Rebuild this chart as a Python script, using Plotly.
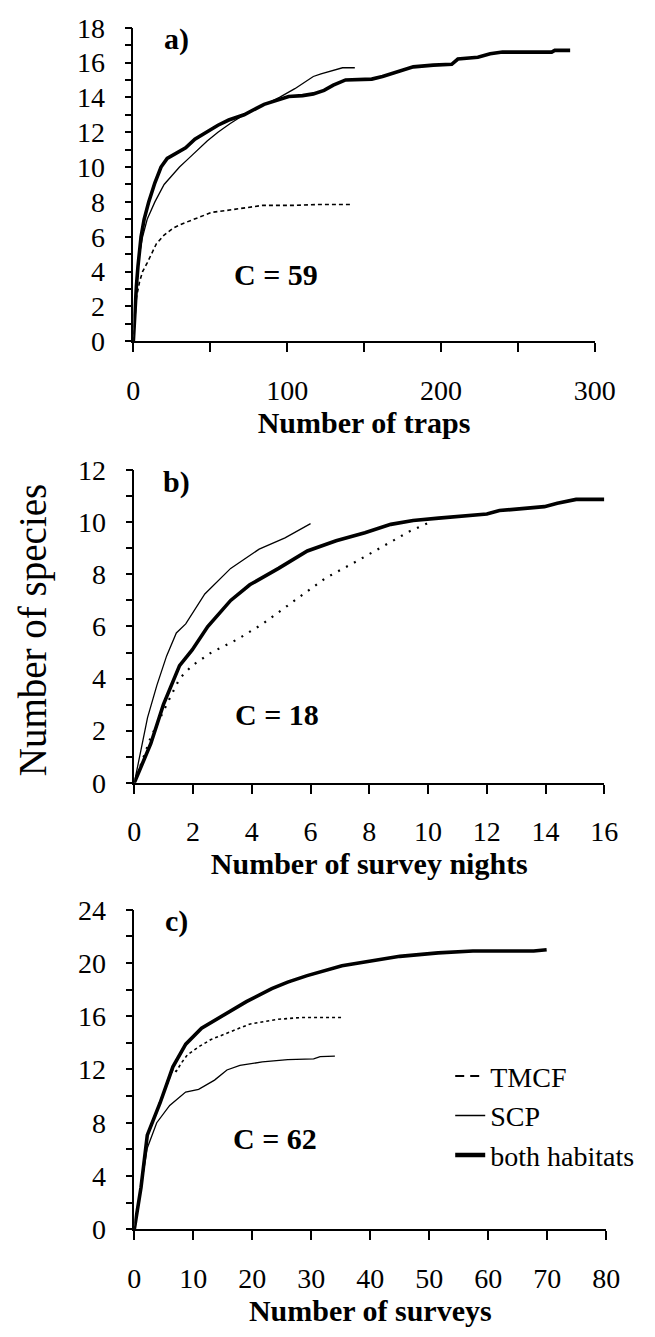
import plotly.graph_objects as go

W, H = 655, 1337
FONT = "Liberation Serif"

# ---------------- data ----------------
# panel a) traps
a_tmcf_x = [0, 1, 2, 4, 6, 9, 15, 20, 26, 32, 38, 45, 51, 60, 67, 75, 84, 95, 105, 120, 141]
a_tmcf_y = [0, 1.6, 2.5, 3.4, 4.0, 4.5, 5.6, 6.1, 6.5, 6.75, 6.95, 7.2, 7.4, 7.5, 7.6, 7.7, 7.8, 7.8, 7.8, 7.85, 7.85]
a_scp_x = [0, 1, 2, 3, 4, 6, 9, 14, 20, 25, 30, 36, 42, 48, 55, 63, 72, 80, 88, 95, 105, 112, 117, 122, 128, 136, 144]
a_scp_y = [0, 1.7, 3.0, 4.1, 5.0, 6.0, 7.0, 8.0, 9.0, 9.5, 10.0, 10.5, 11.0, 11.5, 12.0, 12.5, 13.0, 13.4, 13.7, 14.0, 14.5, 14.9, 15.2, 15.35, 15.5, 15.7, 15.7]
a_both_x = [0, 1, 2, 3, 4, 5, 7, 10, 14, 18, 22, 28, 34, 40, 47, 55, 62, 72, 85, 95, 101, 110, 117, 124, 130, 138,
            147, 155, 162, 169, 176, 182, 195, 207, 211, 224, 232, 240, 272, 274, 284]
a_both_y = [0, 1.8, 3.2, 4.3, 5.3, 6.0, 7.0, 8.0, 9.1, 10.0, 10.5, 10.8, 11.1, 11.6, 12.0, 12.4, 12.7, 13.0, 13.6, 13.9,
            14.05, 14.1, 14.2, 14.4, 14.7, 15.0, 15.0, 15.05, 15.2, 15.4, 15.6, 15.75, 15.85, 15.9, 16.2, 16.3, 16.5,
            16.6, 16.6, 16.7, 16.7]

# panel b) survey nights
b_tmcf_x = [0, 0.56, 1.1, 1.54, 1.97, 2.62, 3.5, 4.37, 5.46, 6.5, 7.64, 8.73, 9.38, 10.0]
b_tmcf_y = [0, 1.75, 3.0, 4.0, 4.5, 5.0, 5.5, 6.1, 7.0, 7.85, 8.55, 9.23, 9.66, 9.97]
b_scp_x = [0, 0.45, 0.77, 1.1, 1.43, 1.75, 2.4, 3.28, 4.25, 5.13, 6.0]
b_scp_y = [0, 2.5, 3.75, 4.87, 5.75, 6.1, 7.25, 8.23, 8.97, 9.4, 9.95]
b_both_x = [0, 0.56, 0.99, 1.54, 1.97, 2.5, 3.28, 3.93, 4.91, 5.89, 6.87, 7.85, 8.73, 9.49, 10.36, 12.0, 12.43,
            13.96, 14.4, 15.04, 16.0]
b_both_y = [0, 1.5, 3.0, 4.5, 5.1, 6.0, 7.0, 7.6, 8.23, 8.9, 9.29, 9.6, 9.92, 10.07, 10.16, 10.32, 10.45, 10.6,
            10.73, 10.88, 10.88]

# panel c) surveys
c_tmcf_x = [0, 1.14, 2.2, 4.38, 6.54, 7.1, 8.0, 9.0, 10.9, 13, 15.2, 17.5, 19.5, 22, 24.4, 28.2, 31, 35.5]
c_tmcf_y = [0, 3.15, 7.07, 9.5, 12.0, 11.85, 12.5, 13.1, 13.7, 14.25, 14.65, 15.05, 15.4, 15.6, 15.77, 15.9, 15.9, 15.9]
c_scp_x = [0, 1.14, 2.2, 3.8, 6.0, 8.7, 10.9, 13.6, 15.7, 17.9, 21.7, 26, 30.4, 31.5, 34]
c_scp_y = [0, 3.1, 6.1, 8.0, 9.3, 10.3, 10.5, 11.2, 11.96, 12.3, 12.57, 12.74, 12.8, 12.97, 13.0]
c_both_x = [0, 1.14, 2.2, 4.38, 6.54, 8.72, 11.4, 15.2, 19, 23.3, 26, 29.3, 32, 35.2, 40.1, 45, 51.5, 57.4, 67.7, 69.9]
c_both_y = [0, 3.15, 7.07, 9.5, 12.2, 13.9, 15.1, 16.1, 17.1, 18.07, 18.56, 19.05, 19.4, 19.8, 20.15, 20.5, 20.76,
            20.9, 20.9, 21.0]

panel_labels = ["a)", "b)", "c)"]
c_values = ["C = 59", "C = 18", "C = 62"]
x_titles = ["Number of traps", "Number of survey nights", "Number of surveys"]
y_title = "Number of species"
series_names = ["TMCF", "SCP", "both habitats"]

# ---------------- layout helpers (pixel geometry) ----------------
def px_x(p):
    return p / W

def px_y(p):
    return 1 - p / H

panels = [
    dict(xr=[0, 300], yr=[0, 18], xd=(132, 614), yd=(13, 334), xdt=100, xminor=50, ydt=2, yminor=1,
         data=[(a_tmcf_x, a_tmcf_y), (a_scp_x, a_scp_y), (a_both_x, a_both_y)], dash="4px,3px", dw=1.6),
    dict(xr=[0, 16], yr=[0, 12], xd=(133, 624), yd=(466, 786), xdt=2, xminor=None, ydt=2, yminor=1,
         data=[(b_tmcf_x, b_tmcf_y), (b_scp_x, b_scp_y), (b_both_x, b_both_y)], dash="2px,7px", dw=2.2),
    dict(xr=[0, 80], yr=[0, 24], xd=(133, 626), yd=(916, 1243), xdt=10, xminor=None, ydt=4, yminor=2,
         data=[(c_tmcf_x, c_tmcf_y), (c_scp_x, c_scp_y), (c_both_x, c_both_y)], dash="3px,3px", dw=1.6),
]

fig = go.Figure()
layout = dict(
    width=W, height=H, margin=dict(l=0, r=0, t=0, b=0),
    paper_bgcolor="white", plot_bgcolor="white",
    font=dict(family=FONT, color="black"),
    showlegend=True,
)

annotations = []
for i, p in enumerate(panels):
    n = "" if i == 0 else str(i + 1)
    xa, ya = "x" + n, "y" + n
    styles = [
        dict(color="black", width=p["dw"], dash=p["dash"]),
        dict(color="black", width=1.3),
        dict(color="black", width=3.6),
    ]
    for (xs, ys), st, name in zip(p["data"], styles, series_names):
        fig.add_trace(go.Scatter(x=xs, y=ys, mode="lines", line=st, name=name, showlegend=False,
                                 xaxis=xa, yaxis=ya, hoverinfo="skip"))
    common = dict(showline=True, linecolor="black", linewidth=1.5, ticks="outside", tickcolor="black",
                  tickwidth=1.5, showgrid=False, zeroline=False,
                  tickfont=dict(family=FONT, size=28, color="black"))
    xaxis = dict(common, domain=[px_x(p["xd"][0]), px_x(p["xd"][1])], range=p["xr"], anchor=ya,
                 tickmode="linear", tick0=0, dtick=p["xdt"], ticklen=9, ticklabelstandoff=14,
                 title=dict(text="<b>%s</b>" % x_titles[i], font=dict(family=FONT, size=30, color="black"),
                            standoff=3))
    if p["xminor"]:
        xaxis["minor"] = dict(dtick=p["xminor"], tick0=0, ticks="outside", ticklen=9, tickwidth=1.5,
                              tickcolor="black", showgrid=False)
    yaxis = dict(common, domain=[px_y(p["yd"][1]), px_y(p["yd"][0])], range=p["yr"], anchor=xa,
                 tickmode="linear", tick0=0, dtick=p["ydt"], ticklen=7, ticklabelstandoff=14,
                 minor=dict(dtick=p["yminor"], tick0=0, ticks="outside", ticklen=7, tickwidth=1.5,
                            tickcolor="black", showgrid=False))
    layout["xaxis" + n] = xaxis
    layout["yaxis" + n] = yaxis

    annotations.append(dict(text="<b>%s</b>" % panel_labels[i], xref="paper", yref="paper",
                            x=px_x(177), y=px_y(p["yd"][0] + 12), showarrow=False,
                            font=dict(family=FONT, size=30, color="black"), xanchor="center", yanchor="middle"))

c_pos = [(281, 266), (282, 716), (280, 1150)]
for txt, (cx, cy) in zip(c_values, c_pos):
    annotations.append(dict(text="<b>%s</b>" % txt, xref="paper", yref="paper", x=px_x(cx), y=px_y(cy),
                            showarrow=False, font=dict(family=FONT, size=30, color="black"),
                            xanchor="center", yanchor="middle"))

annotations.append(dict(text=y_title, xref="paper", yref="paper", x=px_x(28), y=px_y(630), textangle=-90,
                        showarrow=False, font=dict(family=FONT, size=39, color="black"),
                        xanchor="center", yanchor="middle"))
layout["annotations"] = annotations

# legend-only entries (panel c)
leg_styles = [dict(color="black", width=2, dash="9px,6px"), dict(color="black", width=1.5),
              dict(color="black", width=4.5)]
for name, st in zip(series_names, leg_styles):
    fig.add_trace(go.Scatter(x=[None], y=[None], mode="lines", line=st, name=name, showlegend=True,
                             xaxis="x3", yaxis="y3"))

layout["legend"] = dict(x=px_x(463), y=px_y(1061), xanchor="left", yanchor="top",
                        font=dict(family=FONT, size=28, color="black"), bgcolor="rgba(0,0,0,0)",
                        borderwidth=0, tracegroupgap=0, itemclick=False)

fig.update_layout(**layout)
fig.write_html("out.html", config={"displayModeBar": False},
               post_script="document.body.style.margin='0px';")
